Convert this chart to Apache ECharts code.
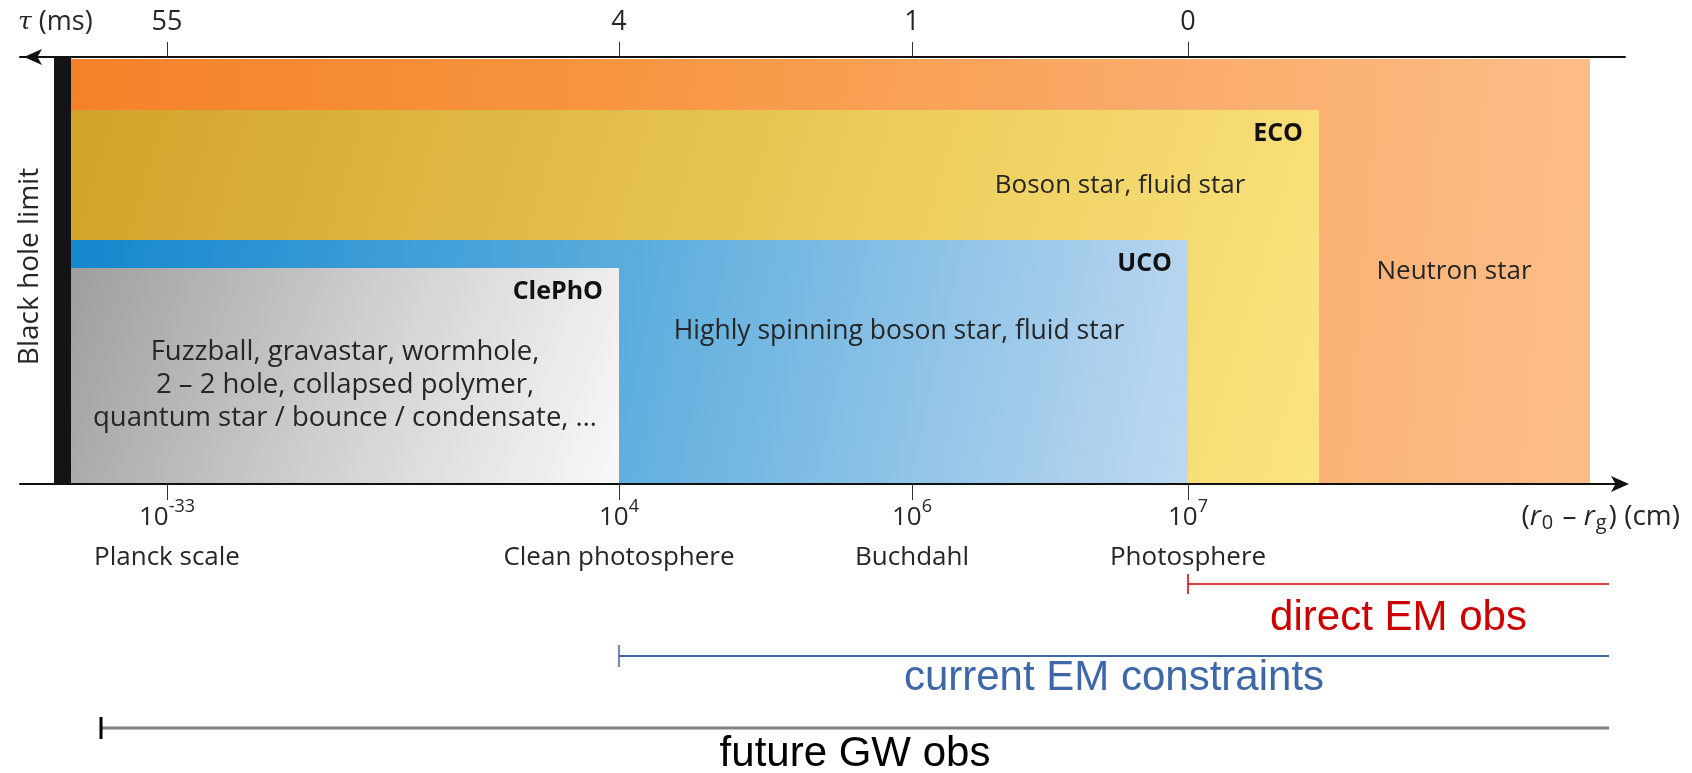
<!DOCTYPE html>
<html><head><meta charset="utf-8">
<script src="https://cdn.jsdelivr.net/npm/echarts@6/dist/echarts.min.js"></script>
<style>html,body{margin:0;padding:0;background:#fff}#c{width:1692px;height:773px}</style>
</head><body><div id="c"></div>
<script>
// ---------------- data ----------------
// schematic positions along the (r0 - rg) axis (arbitrary units)
const tickPositions = [147, 599, 892, 1168];
const tauLabels = ['55', '4', '1', '0'];                 // τ (ms)
const sizeExponents = ['-33', '4', '6', '7'];            // r0 - rg = 10^n cm
const sizeNames = ['Planck scale', 'Clean photosphere', 'Buchdahl', 'Photosphere'];

const regionNames = ['Neutron star', 'ECO', 'UCO', 'ClePhO'];
const regionStart = [51, 51, 51, 51];
const regionEnd = [1570, 1299, 1168, 599];
const regionTop = [425, 374, 244, 216];
const regionMembers = [
  'Neutron star',
  'Boson star, fluid star',
  'Highly spinning boson star, fluid star',
  'Fuzzball, gravastar, wormhole,\n2 – 2 hole, collapsed polymer,\nquantum star / bounce / condensate, …'
];

const blackHoleStart = [34];
const blackHoleEnd = [51];
const blackHoleTop = [427];
const blackHoleName = ['Black hole limit'];

const obsNames = ['direct EM obs', 'current EM constraints', 'future GW obs'];
const obsStart = [1168, 599, 81];
const obsEnd = [1589, 1589, 1589];

// ---------------- styles / layout ----------------
const X_MAX = 1605, Y_MAX = 427;
const FONT = '"Open Sans"';
const TXT = '#262626';
const G = echarts.graphic.LinearGradient;
const regionFill = [
  new G(0, 0, 1, 0.3, [{offset: 0, color: '#F4812A'}, {offset: 0.35, color: '#F7953F'}, {offset: 0.7, color: '#FAAA68'}, {offset: 1, color: '#FDBD87'}]),
  new G(0, 0, 1, 1, [{offset: 0, color: '#D2A32A'}, {offset: 0.6, color: '#EBCB5A'}, {offset: 1, color: '#FCE480'}]),
  new G(0, 0, 1, 1, [{offset: 0, color: '#1487CE'}, {offset: 0.5, color: '#5EAEDE'}, {offset: 1, color: '#BFD8F0'}]),
  new G(0, 0, 1, 1, [{offset: 0, color: '#9E9E9E'}, {offset: 0.5, color: '#CFCFCF'}, {offset: 1, color: '#F9F9F9'}])
];
// member-text anchors relative to the region rectangle (pixels)
const memberAnchor = [
  (l, t, r, b) => [r - 136, (t + b) / 2],
  (l, t, r, b) => [r - 199, t + 76],
  (l, t, r, b) => [r - 289, t + 91],
  (l, t, r, b) => [(l + r) / 2, t + 117]
];
const memberFontSize = [26, 26, 26.5, 27.5];
const obsColor = ['#CC0000', '#3D67A8', '#808080'];
const obsTickColor = ['#CC0000', '#3D67A8', '#000000'];
const obsTextColor = ['#CC0000', '#3D67A8', '#000000'];
const obsWidth = [1.5, 2, 3];
const obsTickLen = [20, 22, 22];
const obsTickWidth = [1.5, 1.5, 3];
const obsTextOffset = [34, 22, 26];

function renderRegion(params, api) {
  const i = params.dataIndex;
  const a = api.coord([api.value(0), api.value(2)]);
  const b = api.coord([api.value(1), 0]);
  const l = a[0], t = a[1], r = b[0], bt = b[1];
  const children = [{
    type: 'rect', shape: {x: l, y: t, width: r - l, height: bt - t},
    style: {fill: regionFill[i]}
  }];
  if (i > 0) {
    children.push({type: 'text', style: {text: regionNames[i], x: r - 16, y: t + 24, align: 'right', verticalAlign: 'middle',
      font: 'bold 25px ' + FONT, fill: '#111'}});
  }
  const p = memberAnchor[i](l, t, r, bt);
  children.push({type: 'text', style: {text: regionMembers[i], x: p[0], y: p[1], align: 'center', verticalAlign: 'middle',
    font: memberFontSize[i] + 'px ' + FONT, lineHeight: 33, fill: TXT}});
  return {type: 'group', children};
}

function renderBlackHole(params, api) {
  const i = params.dataIndex;
  const a = api.coord([api.value(0), api.value(2)]);
  const b = api.coord([api.value(1), 0]);
  return {type: 'group', children: [
    {type: 'rect', shape: {x: a[0], y: a[1], width: b[0] - a[0], height: b[1] - a[1]}, style: {fill: '#141414'}},
    {type: 'text', x: a[0] - 24, y: (a[1] + b[1]) / 2 - 4, rotation: Math.PI / 2,
      style: {text: blackHoleName[i], x: 0, y: 0, align: 'center', verticalAlign: 'middle', font: '28px ' + FONT, fill: TXT}}
  ]};
}

function renderObs(params, api) {
  const i = params.dataIndex;
  const a = api.coord([api.value(0), api.value(2)]);
  const b = api.coord([api.value(1), api.value(2)]);
  const y = a[1];
  return {type: 'group', children: [
    {type: 'line', shape: {x1: a[0], y1: y, x2: b[0], y2: y}, style: {stroke: obsColor[i], lineWidth: obsWidth[i]}},
    {type: 'line', shape: {x1: a[0], y1: y - obsTickLen[i] / 2, x2: a[0], y2: y + obsTickLen[i] / 2},
      style: {stroke: obsTickColor[i], lineWidth: obsTickWidth[i]}},
    {type: 'text', style: {text: obsNames[i], x: (a[0] + b[0]) / 2, y: y + obsTextOffset[i], align: 'center', verticalAlign: 'middle',
      font: '42px "Liberation Sans"', fill: obsTextColor[i]}}
  ]};
}

const chart = echarts.init(document.getElementById('c'), null, {renderer: 'canvas'});
chart.setOption({
  animation: false,
  backgroundColor: '#ffffff',
  grid: [
    {left: 20, right: 67, top: 57, bottom: 289},
    {left: 20, right: 67, top: 548, height: 216}
  ],
  xAxis: [
    {
      gridIndex: 0, type: 'value', position: 'bottom', min: 0, max: X_MAX, z: 10,
      axisLine: {show: true, lineStyle: {color: '#111', width: 2}, symbol: ['none', 'arrow'], symbolSize: [12, 18], symbolOffset: [0, 4]},
      axisTick: {show: true, customValues: tickPositions, length: 16, lineStyle: {color: '#333', width: 1}},
      axisLabel: {
        show: true, customValues: tickPositions, margin: 14,
        formatter: v => {
          const k = tickPositions.indexOf(v);
          return '{b|10}{s|' + sizeExponents[k] + '}\n{n|' + sizeNames[k] + '}';
        },
        rich: {
          b: {fontFamily: FONT, fontSize: 26, lineHeight: 40, color: TXT},
          s: {fontFamily: FONT, fontSize: 18, lineHeight: 18, verticalAlign: 'top', color: TXT},
          n: {fontFamily: FONT, fontSize: 26, lineHeight: 40, color: TXT}
        }
      },
      splitLine: {show: false},
      name: '({i|r}{sub|0} – {i|r}{sub|g}) (cm)', nameLocation: 'end', nameGap: 55,
      nameTextStyle: {
        align: 'right', verticalAlign: 'top', padding: [17, 0, 0, 0], fontFamily: FONT, fontSize: 28, lineHeight: 32, color: TXT,
        rich: {
          i: {fontFamily: FONT, fontStyle: 'italic', fontSize: 28, lineHeight: 32, color: TXT},
          sub: {fontFamily: FONT, fontSize: 20, lineHeight: 20, verticalAlign: 'bottom', padding: [0, 2, 0, 1], color: TXT}
        }
      }
    },
    {
      gridIndex: 0, type: 'value', position: 'top', min: 0, max: X_MAX, z: 10,
      axisLine: {show: true, lineStyle: {color: '#111', width: 2}, symbol: ['arrow', 'none'], symbolSize: [12, 18], symbolOffset: [4, 0]},
      axisTick: {show: true, customValues: tickPositions, length: 15, lineStyle: {color: '#333', width: 1}},
      axisLabel: {
        show: true, customValues: tickPositions, margin: 20, fontFamily: FONT, fontSize: 27, lineHeight: 30, color: TXT,
        formatter: v => tauLabels[tickPositions.indexOf(v)]
      },
      splitLine: {show: false},
      name: '{i|τ} (ms)', nameLocation: 'start', nameGap: 2,
      nameTextStyle: {
        align: 'left', verticalAlign: 'bottom', padding: [0, 0, 20, 0], fontFamily: FONT, fontSize: 27, lineHeight: 30, color: TXT,
        rich: {i: {fontFamily: 'DejaVu Serif', fontStyle: 'italic', fontSize: 25, lineHeight: 30, color: TXT}}
      }
    },
    {gridIndex: 1, type: 'value', min: 0, max: X_MAX, show: false}
  ],
  yAxis: [
    {gridIndex: 0, type: 'value', min: 0, max: Y_MAX, show: false},
    {gridIndex: 1, type: 'category', data: obsNames, inverse: true, show: false}
  ],
  series: [
    {
      type: 'custom', name: 'regions', xAxisIndex: 0, yAxisIndex: 0, renderItem: renderRegion, clip: false,
      encode: {x: [0, 1], y: 2},
      data: regionNames.map((n, i) => [regionStart[i], regionEnd[i], regionTop[i]])
    },
    {
      type: 'custom', name: 'black hole limit', xAxisIndex: 0, yAxisIndex: 0, renderItem: renderBlackHole, clip: false,
      encode: {x: [0, 1], y: 2},
      data: blackHoleName.map((n, i) => [blackHoleStart[i], blackHoleEnd[i], blackHoleTop[i]])
    },
    {
      type: 'custom', name: 'observations', xAxisIndex: 2, yAxisIndex: 1, renderItem: renderObs, clip: false,
      encode: {x: [0, 1], y: 2},
      data: obsNames.map((n, i) => [obsStart[i], obsEnd[i], i])
    }
  ]
});
</script></body></html>
